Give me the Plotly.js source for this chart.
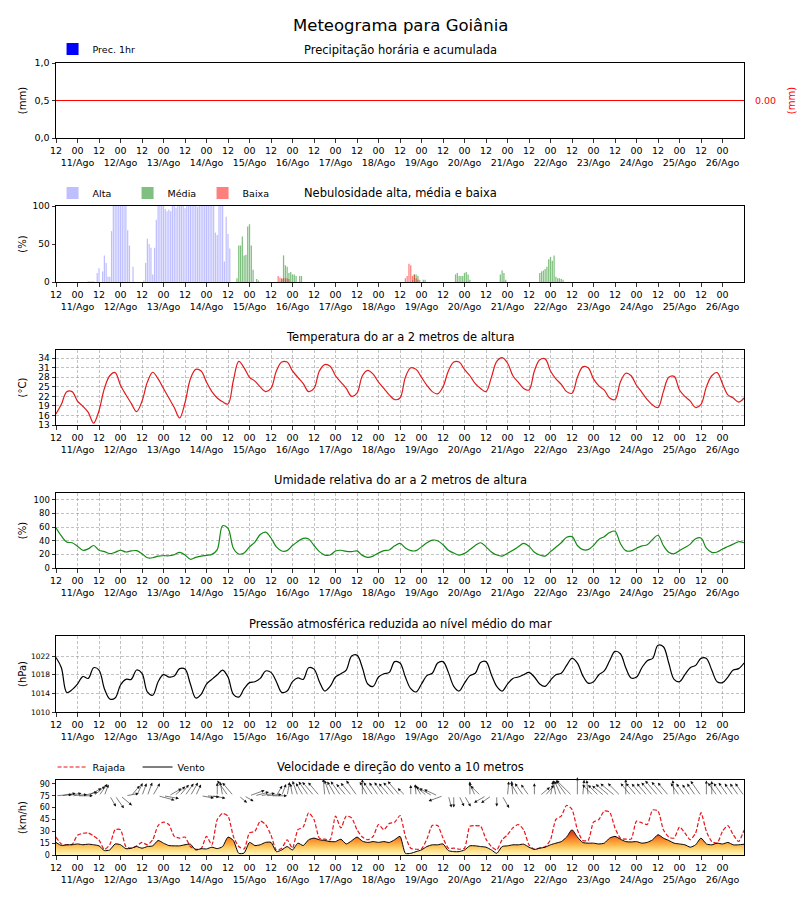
<!DOCTYPE html>
<html>
<head>
<meta charset="utf-8">
<script src="https://cdn.plot.ly/plotly-3.0.1.min.js"></script>
<style>html,body{margin:0;padding:0;background:#fff}</style>
</head>
<body>
<div id="chart" style="width:800px;height:900px"></div>
<script>
// ---------------- DADOS ----------------
const passoHoras = 3; // série a cada 3 h, início 10/Ago 12h
const diasRotulo = ["11/Ago","12/Ago","13/Ago","14/Ago","15/Ago","16/Ago","17/Ago","18/Ago",
  "19/Ago","20/Ago","21/Ago","22/Ago","23/Ago","24/Ago","25/Ago","26/Ago"];

const temperatura = [
  16.5,19.5,23.5,23.5,20.5,18.9,17.0,13.6,17.5,24.5,
  28.5,29.5,25.5,22.5,19.8,17.2,20.5,26.5,29.6,27.5,
  24.5,21.5,18.5,15.2,20.0,27.5,30.5,30.0,26.5,23.5,
  21.5,20.3,19.6,27.0,33.0,31.0,28.0,26.8,25.0,23.5,
  24.5,30.0,32.8,32.8,30.0,28.0,26.0,23.5,24.5,30.0,
  32.0,31.5,28.5,26.5,24.5,22.0,23.0,28.5,30.2,29.0,
  26.5,24.5,22.5,21.0,21.5,28.0,31.0,30.5,28.0,25.5,
  23.5,22.8,25.0,30.0,32.8,32.8,30.5,28.5,26.0,24.5,
  23.5,28.0,33.0,34.2,32.5,28.5,26.5,24.5,24.0,30.0,
  33.5,33.8,30.0,27.5,25.8,23.5,23.0,28.0,31.3,31.0,
  27.5,25.3,24.0,21.5,21.0,26.5,29.3,28.5,25.5,23.3,
  21.0,19.3,18.5,23.5,28.0,28.3,24.0,22.0,20.5,18.5,
  19.5,25.0,28.5,29.5,26.0,22.5,21.5,20.2,21.5];

const umidade = [
  59,47,38,37,32,26,28,33,26,24,
  21,23,26,23.5,25,25.5,21,15,15,17.5,
  18,18,19.5,23,19,12.8,15.5,17.5,18.5,20,
  27,62,58,29,20.5,22,31,38,49,52.5,
  44,31,25,25.5,33,39,43.5,42.5,33,24,
  19,19,25,26,24.5,24,25,18.5,15.5,17.5,
  22,25.5,26.5,32.5,36,29.5,25.5,25.5,31,37,
  40.8,40,34,26,22,19,21.5,27,33,37,
  31,23.5,19,17.5,21.5,26,31,36,32,23,
  19,17.5,24,30.5,37,45,46,33,27,27,
  33,42,46,52,54,36,25.5,25,29,32.5,
  34,42,48,33,23,21,25.5,30,35,43,
  44,29,23,23.5,28,31.5,35,38.5,37];

const pressao = [
  1021.7,1019.5,1014.2,1014.8,1016.0,1017.6,1017.2,1019.5,1019.0,1015.0,
  1012.8,1013.0,1015.8,1017.0,1017.0,1019.0,1018.3,1014.3,1013.6,1016.5,
  1018.0,1017.5,1017.7,1019.3,1019.2,1016.0,1013.0,1013.8,1016.0,1017.0,
  1018.0,1019.0,1017.5,1013.8,1013.2,1015.0,1016.3,1016.5,1017.2,1018.8,
  1018.5,1016.5,1014.2,1014.5,1016.5,1017.3,1017.0,1019.5,1019.2,1016.5,
  1014.5,1015.5,1017.5,1018.2,1019.0,1022.0,1022.2,1019.5,1016.0,1015.5,
  1017.5,1018.2,1018.5,1020.8,1020.5,1017.5,1015.0,1014.3,1016.0,1017.8,
  1018.3,1020.5,1020.8,1018.5,1015.5,1014.5,1016.2,1017.8,1018.3,1020.6,
  1020.8,1018.0,1015.5,1014.5,1016.0,1017.2,1017.5,1018.0,1018.5,1017.5,
  1016.0,1015.5,1016.8,1018.0,1018.3,1020.0,1021.5,1020.5,1017.8,1016.2,
  1016.5,1018.0,1018.8,1021.0,1023.0,1022.5,1019.5,1017.3,1017.5,1019.5,
  1021.0,1021.5,1024.3,1024.0,1020.5,1017.0,1016.5,1018.0,1019.5,1020.0,
  1021.5,1021.5,1019.0,1016.5,1016.3,1017.5,1019.0,1019.3,1020.5];

const vento = [
  15.9,12,12.9,13,14,13,13.7,13,11.6,5.6,
  6.4,14,13,8,8.6,10.7,8.6,10.7,11.6,18.4,
  15,12,11.6,11.6,13,13.7,6.4,8,7.7,9.9,
  8.1,10.7,22.7,18.4,2.1,2.5,16,12,13,16,
  16,4.3,6.4,10.7,6.4,15,12,19.3,21.4,19.3,
  18.4,17,17,20,14,18,22.7,17.5,15.9,17,
  16,17,15.9,19.3,23.6,2.1,2.1,4.3,6.4,10.7,
  12.9,12.9,14,5.6,4.3,4.3,6.4,11.6,11.6,10.7,
  9.9,6.4,2.1,10.7,11.6,12.9,12.9,13.7,9.9,7,
  8.6,9.9,12.9,15,17,22.7,32,22.7,15.9,15,
  15,14,15,21.4,23.6,20.1,17,16.5,17,15,
  16,19.3,25.7,21.4,18.4,15,14,12.9,9.9,12.9,
  21.4,14,12.9,15,14,15.9,12.9,12.9,13.7];

const rajada = [
  22.7,14,13,13.5,25,27.5,27.9,24,19,7,
  13,32,32,10.7,8.6,11.6,15.9,12.9,19.3,37.3,
  41.6,38.6,23.6,21.4,22.7,10.7,7.3,8.1,23.6,12.9,
  45,52.7,49.3,23.6,10.7,7.7,28,30,42.9,38.6,
  25,6.4,8.6,19.3,8.6,32,35.6,53.6,45,21.4,
  20,19.3,49.3,34.3,49.3,47,32,22.7,19.3,23.6,
  38.6,32,39.9,41.6,50,23.6,8.6,7.3,7.7,20.1,
  37.3,37.3,21.4,8.6,8.6,7.3,8.6,36.4,37.3,36.4,
  20.1,10.7,6.4,19.3,25.7,34.3,38.6,32,12.9,7.5,
  9,10.5,19.3,45,49.3,63,57.9,32,18.4,18.4,
  41.6,45,55.7,54.4,34.3,21.4,20.1,20.1,42.9,40.7,
  38.6,57,55.7,32,22.7,21.4,35.6,27.9,19.3,27.9,
  53.6,30,17.1,15,30,37.3,25.7,17.1,31.3];

// direção para onde o vento sopra (graus: 0 = leste, 90 = norte)
const direcaoSeta = [
  5,10,10,5,0,15,30,40,55,70,
  -60,-55,-40,10,50,65,70,70,60,-15,
  -10,30,40,50,55,60,65,-10,-5,-10,
  90,100,125,130,-40,-30,20,15,10,5,
  0,60,70,80,100,110,120,125,130,130,
  95,110,120,125,130,130,125,90,120,125,
  125,125,130,130,130,135,90,95,120,140,
  150,155,200,-75,-90,-65,-60,90,115,135,
  210,215,-90,-60,85,95,120,125,125,90,
  40,50,80,100,115,125,135,90,85,95,
  135,135,140,140,140,135,90,130,130,130,
  130,130,130,130,130,95,125,125,125,125,
  125,90,90,125,125,125,125,125,125];

const precHoraria = [
  0,0,0,0,0,0,0,0,0,0, 0,0,0,0,0,0,0,0,0,0, 0,0,0,0,0,0,0,0,0,0,
  0,0,0,0,0,0,0,0,0,0, 0,0,0,0,0,0,0,0,0,0, 0,0,0,0,0,0,0,0,0,0,
  0,0,0,0,0,0,0,0,0,0, 0,0,0,0,0,0,0,0,0,0, 0,0,0,0,0,0,0,0,0,0,
  0,0,0,0,0,0,0,0,0,0, 0,0,0,0,0,0,0,0,0,0, 0,0,0,0,0,0,0,0,0,0,
  0,0,0,0,0,0,0,0,0];
const precAcumulada = [
  0,0,0,0,0,0,0,0,0,0, 0,0,0,0,0,0,0,0,0,0, 0,0,0,0,0,0,0,0,0,0,
  0,0,0,0,0,0,0,0,0,0, 0,0,0,0,0,0,0,0,0,0, 0,0,0,0,0,0,0,0,0,0,
  0,0,0,0,0,0,0,0,0,0, 0,0,0,0,0,0,0,0,0,0, 0,0,0,0,0,0,0,0,0,0,
  0,0,0,0,0,0,0,0,0,0, 0,0,0,0,0,0,0,0,0,0, 0,0,0,0,0,0,0,0,0,0,
  0,0,0,0,0,0,0,0,0];

// nebulosidade horária (%): [hora inicial, valores hora a hora]
const nuvemAlta = [[18, [
  1,1,1,1,0,12,18,0,14,35,25,7,7,67,100,100,100,100,100,100,100,100,68,48,
  0,20,0,0,0,0,0,2,25,57,50,45,10,45,82,100,100,100,100,96,93,95,93,
  100,100,98,100,100,100,100,97,100,100,100,100,100,100,99,100,100,100,100,100,100,100,100,100,
  65,62,100,100,100,27,86,63,44]]];
const nuvemMedia = [
  [101, [5,48,48,60,35,36,73,76,48,16,0,4,2]],
  [126, [4,35,22,20,12,13,10,10,8,0,8,8]],
  [199, [2,10,10,8,3,0,3,3]],
  [223, [10,12,8,8,8,12,13,10,3]],
  [248, [10,15,12,3]],
  [270, [12,14,15,17,20,30,33,28,35,7,5,5,4,3]]];
const nuvemBaixa = [
  [124, [8,6,5,5,5,5,4]],
  [195, [5,8,24,22,8,10,5,3]]];

// ---------------- GRÁFICO ----------------
const horas = temperatura.map((_, i) => i * passoHoras);
const HMAX = 384;
const tickvals = [], ticktext = [];
for (let k = 0; k < 32; k++) {
  tickvals.push(k * 12);
  ticktext.push(k % 2 === 0 ? '12' : '00<br>' + diasRotulo[(k - 1) / 2]);
}
function expandir(segs) {
  const x = [], y = [];
  segs.forEach(([ini, vals]) => vals.forEach((v, k) => { x.push(ini + k); y.push(v); }));
  return {x, y};
}

const FIG_H = 900;
const paineis = [[63,138],[206,282],[350,425],[493,568],[636,712],[780,855]];
const dom = p => [1 - p[1] / FIG_H, 1 - p[0] / FIG_H];
const pyy = p => 1 - p / FIG_H;

function eixoX(n, grade) {
  return {
    anchor: 'y' + (n === 1 ? '' : n), range: [0, HMAX], tickmode: 'array',
    tickvals, ticktext, tickangle: 0, ticks: 'outside', ticklen: 3.5, tickwidth: 0.8, tickcolor: '#000',
    tickfont: {size: 9.5, color: '#000'}, showline: true, linecolor: '#000', linewidth: 1,
    mirror: true, zeroline: false, showgrid: grade, gridcolor: '#9a9a9a', griddash: '3px,2px',
    gridwidth: 0.6, fixedrange: true
  };
}
function eixoY(n, range, tv, tt, titulo, fs, grade) {
  const e = {
    anchor: 'x' + (n === 1 ? '' : n), domain: dom(paineis[n - 1]), range,
    tickmode: 'array', tickvals: tv, ticks: 'outside', ticklen: 3.5, tickwidth: 0.8,
    tickcolor: '#000', tickfont: {size: fs, color: '#000'}, showline: true, linecolor: '#000',
    linewidth: 1, mirror: true, zeroline: false, showgrid: grade, gridcolor: '#9a9a9a',
    griddash: '3px,2px', gridwidth: 0.6, title: {text: titulo, font: {size: 10, color: '#000'}},
    fixedrange: true
  };
  if (tt) e.ticktext = tt;
  return e;
}

const alta = expandir(nuvemAlta), media = expandir(nuvemMedia), baixa = expandir(nuvemBaixa);

const traces = [
  {type: 'bar', x: horas, y: precHoraria, xaxis: 'x', yaxis: 'y', name: 'Prec. 1hr',
   marker: {color: '#0000ff'}, width: 2, legend: 'legend'},
  {type: 'scatter', mode: 'lines', x: horas, y: precAcumulada, xaxis: 'x', yaxis: 'y7',
   line: {color: '#ff0000', width: 1}, showlegend: false},
  {type: 'bar', x: alta.x, y: alta.y, xaxis: 'x2', yaxis: 'y2', name: 'Alta', width: 0.7,
   marker: {color: 'rgba(0,0,255,0.25)'}, legend: 'legend2'},
  {type: 'bar', x: media.x, y: media.y, xaxis: 'x2', yaxis: 'y2', name: 'Média', width: 0.7,
   marker: {color: 'rgba(0,128,0,0.5)'}, legend: 'legend2'},
  {type: 'bar', x: baixa.x, y: baixa.y, xaxis: 'x2', yaxis: 'y2', name: 'Baixa', width: 0.7,
   marker: {color: 'rgba(255,0,0,0.5)'}, legend: 'legend2'},
  {type: 'scatter', mode: 'lines', x: horas, y: temperatura, xaxis: 'x3', yaxis: 'y3',
   line: {color: '#e31a1c', width: 1.2, shape: 'spline', smoothing: 1}, showlegend: false},
  {type: 'scatter', mode: 'lines', x: horas, y: umidade, xaxis: 'x4', yaxis: 'y4',
   line: {color: '#138a13', width: 1.2, shape: 'spline', smoothing: 1}, showlegend: false},
  {type: 'scatter', mode: 'lines', x: horas, y: pressao, xaxis: 'x5', yaxis: 'y5',
   line: {color: '#000', width: 1.2, shape: 'spline', smoothing: 1}, showlegend: false},
  {type: 'scatter', mode: 'lines', x: horas, y: vento, xaxis: 'x6', yaxis: 'y6',
   line: {color: 'rgba(0,0,0,0)', width: 0, shape: 'spline', smoothing: 0.6}, fill: 'tozeroy',
   fillgradient: {type: 'vertical', start: 0, stop: 32,
     colorscale: [[0,'#fff6bd'],[0.2,'#fede85'],[0.4,'#fdb84c'],[0.6,'#f98c2c'],[0.8,'#e9561f'],[1,'#d0281a']]},
   showlegend: false},
  {type: 'scatter', mode: 'lines', x: horas, y: rajada, xaxis: 'x6', yaxis: 'y6', name: 'Rajada',
   line: {color: '#e8141a', width: 1.2, dash: '4px,2px', shape: 'spline', smoothing: 0.6},
   legend: 'legend3', legendrank: 1},
  {type: 'scatter', mode: 'lines', x: horas, y: vento, xaxis: 'x6', yaxis: 'y6', name: 'Vento',
   line: {color: '#000', width: 1, shape: 'spline', smoothing: 0.6},
   legend: 'legend3', legendrank: 2}
];

// setas de direção do vento (quiver) em y = 75 km/h
const pxPorHora = (800 - 56 - 56) / HMAX;
const pxPorKmh = (paineis[5][1] - paineis[5][0]) / 95;
const setas = horas.map((h, i) => {
  const L = 10 + 0.38 * vento[i];
  const a = direcaoSeta[i] * Math.PI / 180;
  return {xref: 'x6', yref: 'y6', axref: 'x6', ayref: 'y6',
    x: h + L * Math.cos(a) / pxPorHora, y: 75 + L * Math.sin(a) / pxPorKmh,
    ax: h, ay: 75, text: '', showarrow: true, arrowhead: 2, arrowsize: 1.1,
    arrowwidth: 0.55, arrowcolor: '#111', standoff: 0, startstandoff: 0};
});

const titulos = [
  ['Meteograma para Goiânia', 26, 16.5],
  ['Precipitação horária e acumulada', 50, 11.5],
  ['Nebulosidade alta, média e baixa', 193, 11.5],
  ['Temperatura do ar a 2 metros de altura', 337, 11.5],
  ['Umidade relativa do ar a 2 metros de altura', 480, 11.5],
  ['Pressão atmosférica reduzida ao nível médio do mar', 624, 11.5],
  ['Velocidade e direção do vento a 10 metros', 767, 11.5]
].map(([t, y, s]) => ({xref: 'paper', yref: 'paper', x: 0.5, y: pyy(y), text: t,
  showarrow: false, xanchor: 'center', yanchor: 'middle', font: {size: s, color: '#000'}}));

const legBase = {orientation: 'h', xanchor: 'left', yanchor: 'middle', bgcolor: 'rgba(0,0,0,0)',
  font: {size: 9.5, color: '#000'}, itemclick: false, itemdoubleclick: false};

const layout = {
  width: 800, height: 900, margin: {l: 56, r: 56, t: 0, b: 0},
  paper_bgcolor: '#fff', plot_bgcolor: '#fff',
  font: {family: 'DejaVu Sans, sans-serif', size: 10, color: '#000'},
  barmode: 'overlay', hovermode: false, showlegend: true,
  xaxis: eixoX(1, false), xaxis2: eixoX(2, false), xaxis3: eixoX(3, true),
  xaxis4: eixoX(4, true), xaxis5: eixoX(5, true), xaxis6: eixoX(6, false),
  yaxis: eixoY(1, [0, 1], [0, 0.5, 1], ['0,0', '0,5', '1,0'], '(mm)', 9.5, false),
  yaxis2: eixoY(2, [0, 100], [0, 50, 100], null, '(%)', 9, false),
  yaxis3: eixoY(3, [13, 36.6], [13,16,19,22,25,28,31,34], null, '(°C)', 9, true),
  yaxis4: eixoY(4, [0, 110], [0,20,40,60,80,100], null, '(%)', 8.5, true),
  yaxis5: eixoY(5, [1010, 1026.3], [1010,1014,1018,1022], null, '(hPa)', 7.5, true),
  yaxis6: eixoY(6, [0, 95], [0,15,30,45,60,75,90], null, '(km/h)', 8, false),
  yaxis7: {overlaying: 'y', side: 'right', anchor: 'x', range: [-1, 1], tickmode: 'array',
    tickvals: [0], ticktext: ['0.00'], ticks: '', ticklabelstandoff: 10,
    tickfont: {size: 9.5, color: '#ff0000'}, showgrid: false, zeroline: false, showline: false,
    title: {text: '(mm)', font: {size: 10, color: '#ff0000'}, standoff: 12}, fixedrange: true},
  legend: Object.assign({}, legBase, {x: -0.005, y: pyy(49)}),
  legend2: Object.assign({}, legBase, {x: -0.005, y: pyy(193), entrywidth: 30}),
  legend3: Object.assign({}, legBase, {x: -0.005, y: pyy(767), entrywidth: 40}),
  annotations: titulos.concat(setas)
};

Plotly.newPlot('chart', traces, layout, {staticPlot: true, displayModeBar: false});
</script>
</body>
</html>
